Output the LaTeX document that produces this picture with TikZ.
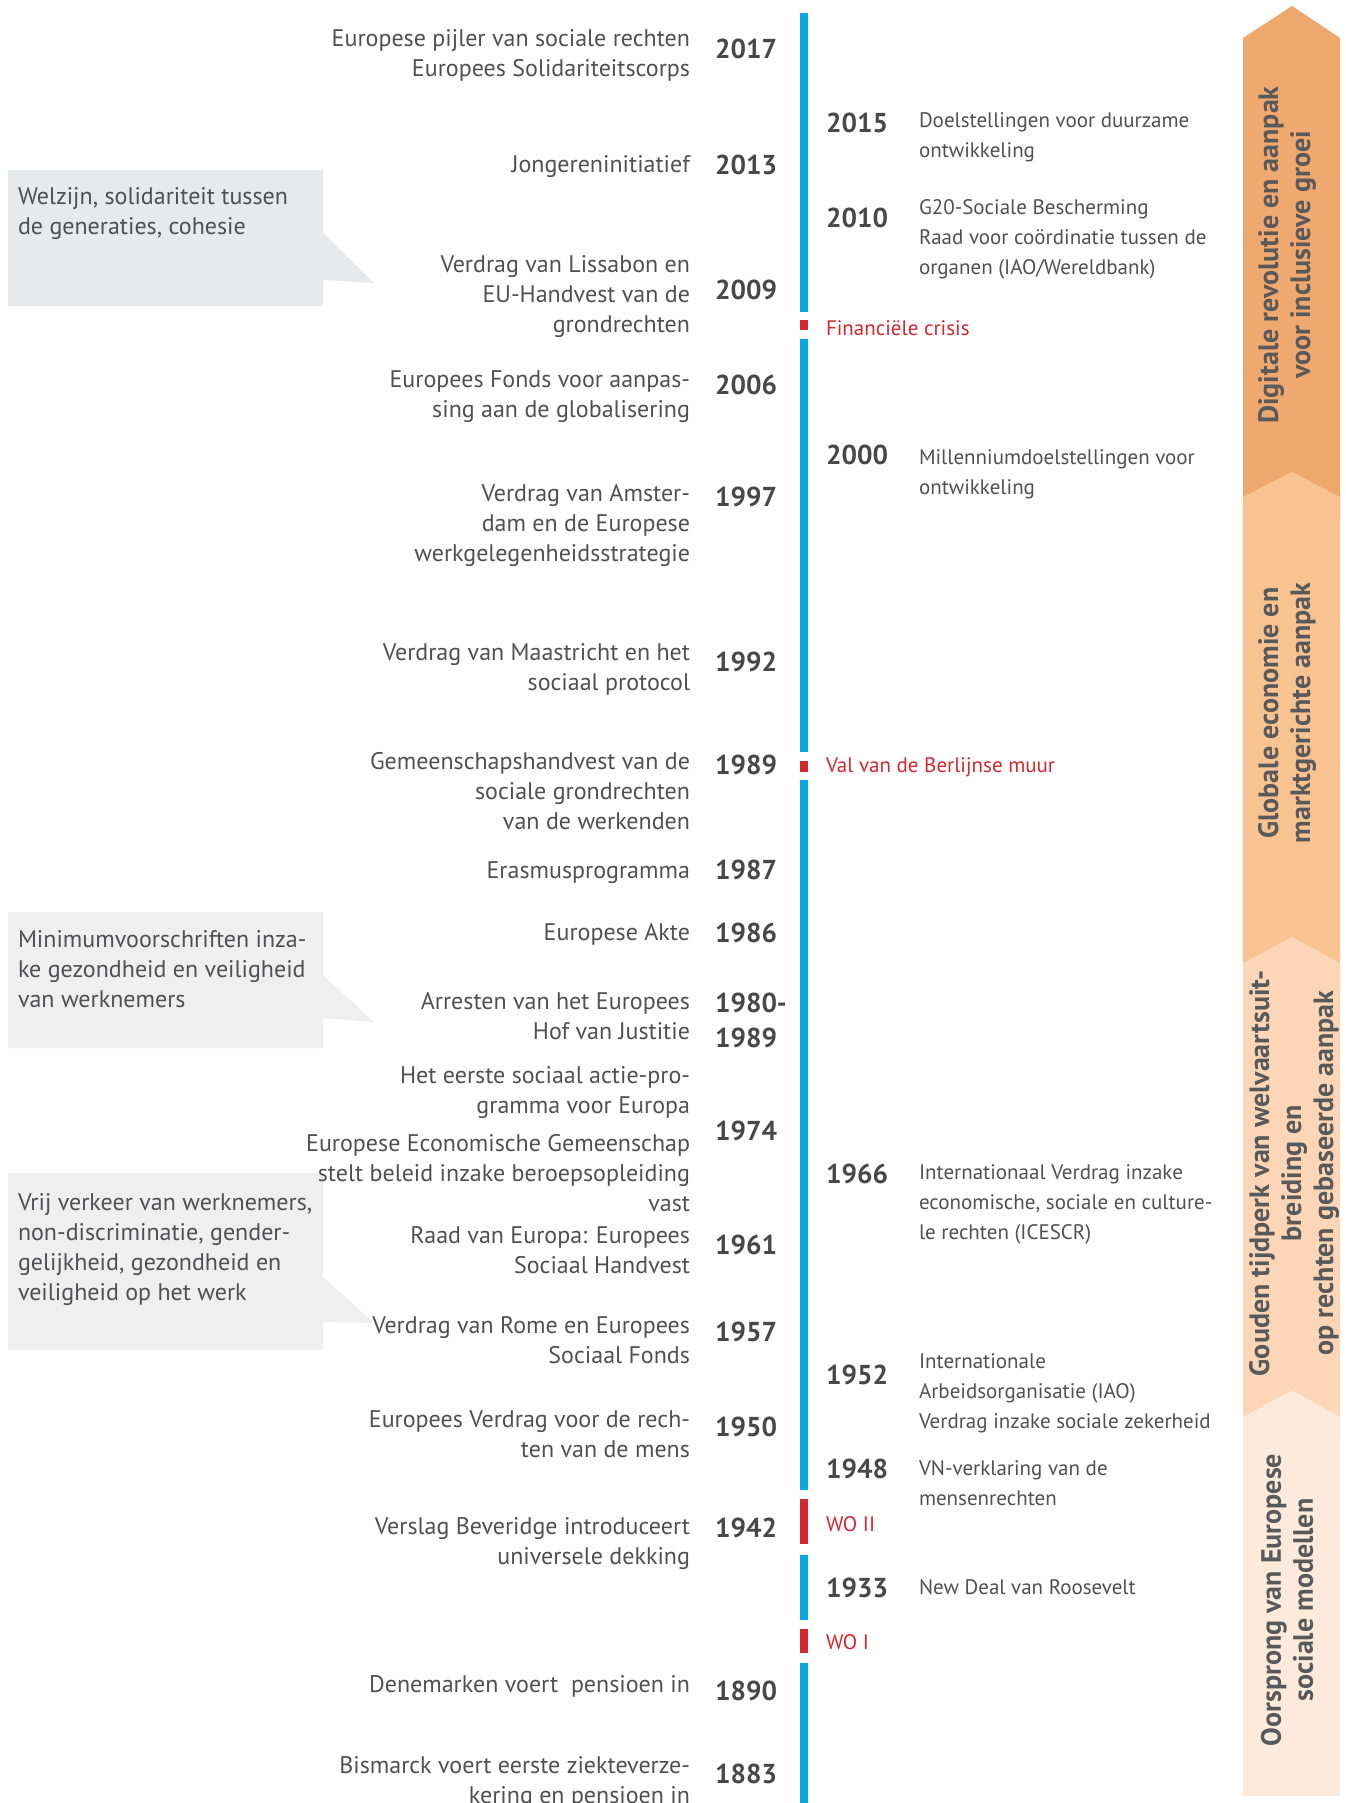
\documentclass[tikz,border=0pt]{standalone}
\usepackage{fontspec}
\setmainfont{PT Sans}
\definecolor{txtgrey}{HTML}{505053}
\definecolor{yeargrey}{HTML}{48484A}
\definecolor{lineblue}{HTML}{06A9E6}
\definecolor{linered}{HTML}{D6262E}
\definecolor{boxA}{HTML}{E7E9EC}
\definecolor{boxB}{HTML}{EFEFEF}
\definecolor{segA}{HTML}{EFA86D}
\definecolor{segB}{HTML}{F8C291}
\definecolor{segC}{HTML}{FCD6B6}
\definecolor{segD}{HTML}{FDEADA}
\definecolor{bandtxt}{HTML}{58595B}
\begin{document}
\begin{tikzpicture}[x=0.75pt,y=-0.75pt,
  every node/.style={inner sep=0pt,outer sep=0pt},
  ltxt/.style={anchor=north east,align=right,text=txtgrey,font=\fontsize{18}{22.5}\selectfont,execute at begin node=\strut},
  ctxt/.style={anchor=north west,align=left,text=txtgrey,font=\fontsize{18}{22.5}\selectfont,execute at begin node=\strut},
  rtxt/.style={anchor=north west,align=left,text=txtgrey,font=\fontsize{15.75}{22.5}\selectfont,execute at begin node=\strut},
  redtxt/.style={anchor=north west,align=left,text=linered,font=\fontsize{15.75}{22.5}\selectfont,execute at begin node=\strut},
  yr/.style={anchor=base west,text=yeargrey,font=\fontsize{20.5}{24}\selectfont\bfseries},
  bandlbl/.style={rotate=90,anchor=center,align=center,text=bandtxt,font=\fontsize{21}{24}\selectfont\bfseries},
  blueseg/.style={fill=lineblue},
  redseg/.style={fill=linered}]
\useasboundingbox (0,0) rectangle (1346,1803);
% band
\fill[segA] (1243,38) -- (1292,6) -- (1340,38) -- (1340,520) -- (1243,520) -- cycle;
\fill[segB] (1243,497) -- (1292,472) -- (1340,497) -- (1340,990) -- (1243,990) -- cycle;
\fill[segC] (1243,963) -- (1292,937) -- (1340,963) -- (1340,1440) -- (1243,1440) -- cycle;
\fill[segD] (1243,1417) -- (1292,1390) -- (1340,1417) -- (1340,1796) -- (1243,1796) -- cycle;
\node[bandlbl] (b1) at (1287,255) {Digitale revolutie en aanpak\\voor inclusieve groei};
\node[bandlbl] (b2) at (1287,713) {Globale economie en\\marktgerichte aanpak};
\node[bandlbl] (b3) at (1294,1173) {Gouden tijdperk van welvaartsuit-\\breiding en\\op rechten gebaseerde aanpak};
\node[bandlbl] (b4) at (1287,1600) {Oorsprong van Europese\\sociale modellen};
% callouts
\fill[boxA] (8,170) -- (323,170) -- (323,233) -- (374,283) -- (323,280) -- (323,306) -- (8,306) -- cycle;
\fill[boxB] (8,912) -- (323,912) -- (323,975) -- (374,1022) -- (323,1018) -- (323,1048) -- (8,1048) -- cycle;
\fill[boxB] (8,1173) -- (323,1173) -- (323,1277) -- (374,1323) -- (323,1322) -- (323,1350) -- (8,1350) -- cycle;
\node[ctxt] (c1) at (18,188) {Welzijn, solidariteit tussen\\de generaties, cohesie};
\node[ctxt] (c2) at (18,930) {Minimumvoorschriften inza-\\ke gezondheid en veiligheid\\van werknemers};
\node[ctxt] (c3) at (18,1193) {Vrij verkeer van werknemers,\\non-discriminatie, gender-\\gelijkheid, gezondheid en\\veiligheid op het werk};
% timeline
\fill[blueseg] (800,13) rectangle (808,312);
\fill[redseg] (800,320) rectangle (808,330);
\fill[blueseg] (800,339) rectangle (808,752);
\fill[redseg] (800,761) rectangle (808,772);
\fill[blueseg] (800,780) rectangle (808,1490);
\fill[redseg] (800,1499) rectangle (808,1544);
\fill[blueseg] (800,1555) rectangle (808,1620);
\fill[redseg] (800,1629) rectangle (808,1653);
\fill[blueseg] (800,1663) rectangle (808,1803);
% left texts
\node[ltxt] (l1) at (690,30) {Europese pijler van sociale rechten\\Europees Solidariteitscorps};
\node[ltxt] (l2) at (690,151) {Jongereninitiatief};
\node[ltxt] (l3) at (690,256) {Verdrag van Lissabon en\\EU-Handvest van de\\grondrechten};
\node[ltxt] (l4) at (690,371) {Europees Fonds voor aanpas-\\sing aan de globalisering};
\node[ltxt] (l5) at (690,484) {Verdrag van Amster-\\dam en de Europese\\werkgelegenheidsstrategie};
\node[ltxt] (l6) at (690,643) {Verdrag van Maastricht en het\\sociaal protocol};
\node[ltxt] (l7) at (690,752) {Gemeenschapshandvest van de\\sociale grondrechten\\van de werkenden};
\node[ltxt] (l8) at (690,857) {Erasmusprogramma};
\node[ltxt] (l9) at (690,919) {Europese Akte};
\node[ltxt] (l10) at (690,992) {Arresten van het Europees\\Hof van Justitie};
\node[ltxt] (l11) at (690,1066) {Het eerste sociaal actie-pro-\\gramma voor Europa};
\node[ltxt] (l12) at (690,1134) {Europese Economische Gemeenschap\\stelt beleid inzake beroepsopleiding\\vast};
\node[ltxt] (l13) at (690,1226) {Raad van Europa: Europees\\Sociaal Handvest};
\node[ltxt] (l14) at (690,1316) {Verdrag van Rome en Europees\\Sociaal Fonds};
\node[ltxt] (l15) at (690,1411) {Europees Verdrag voor de rech-\\ten van de mens};
\node[ltxt] (l16) at (690,1517) {Verslag Beveridge introduceert\\universele dekking};
\node[ltxt] (l17) at (690,1671) {Denemarken voert\ \ pensioen in};
\node[ltxt] (l18) at (690,1756) {Bismarck voert eerste ziekteverze-\\kering en pensioen in};
% left years
\node[yr] (y2017) at (715,58) {2017};
\node[yr] (y2013) at (715,174) {2013};
\node[yr] (y2009) at (715,299) {2009};
\node[yr] (y2006) at (715,394) {2006};
\node[yr] (y1997) at (715,506) {1997};
\node[yr] (y1992) at (715,671) {1992};
\node[yr] (y1989) at (715,774) {1989};
\node[yr] (y1987) at (715,879) {1987};
\node[yr] (y1986) at (715,942) {1986};
\node[yr] (y1980) at (715,1012) {1980-};
\node[yr] (y1989b) at (715,1047) {1989};
\node[yr] (y1974) at (715,1140) {1974};
\node[yr] (y1961) at (715,1254) {1961};
\node[yr] (y1957) at (715,1341) {1957};
\node[yr] (y1950) at (715,1436) {1950};
\node[yr] (y1942) at (715,1537) {1942};
\node[yr] (y1890) at (715,1700) {1890};
\node[yr] (y1883) at (715,1783) {1883};
% right years
\node[yr] (y2015) at (826,132) {2015};
\node[yr] (y2010) at (826,227) {2010};
\node[yr] (y2000) at (826,464) {2000};
\node[yr] (y1966) at (826,1183) {1966};
\node[yr] (y1952) at (826,1384) {1952};
\node[yr] (y1948) at (826,1478) {1948};
\node[yr] (y1933) at (826,1597) {1933};
% right texts
\node[rtxt] (r1) at (919,113) {Doelstellingen voor duurzame\\ontwikkeling};
\node[rtxt] (r2) at (919,200) {G20-Sociale Bescherming\\Raad voor coördinatie tussen de\\organen (IAO/Wereldbank)};
\node[rtxt] (r3) at (919,450) {Millenniumdoelstellingen voor\\ontwikkeling};
\node[rtxt] (r4) at (919,1165) {Internationaal Verdrag inzake\\economische, sociale en culture-\\le rechten (ICESCR)};
\node[rtxt] (r5) at (919,1354) {Internationale\\Arbeidsorganisatie (IAO)\\Verdrag inzake sociale zekerheid};
\node[rtxt] (r6) at (919,1461) {VN-verklaring van de\\mensenrechten};
\node[rtxt] (r7) at (919,1573) {New Deal van Roosevelt};
% red labels
\node[redtxt] (e1) at (826,314) {Financiële crisis};
\node[redtxt] (e2) at (826,751) {Val van de Berlijnse muur};
\node[redtxt] (e3) at (826,1510) {WO II};
\node[redtxt] (e4) at (826,1628) {WO I};
\end{tikzpicture}
\end{document}
